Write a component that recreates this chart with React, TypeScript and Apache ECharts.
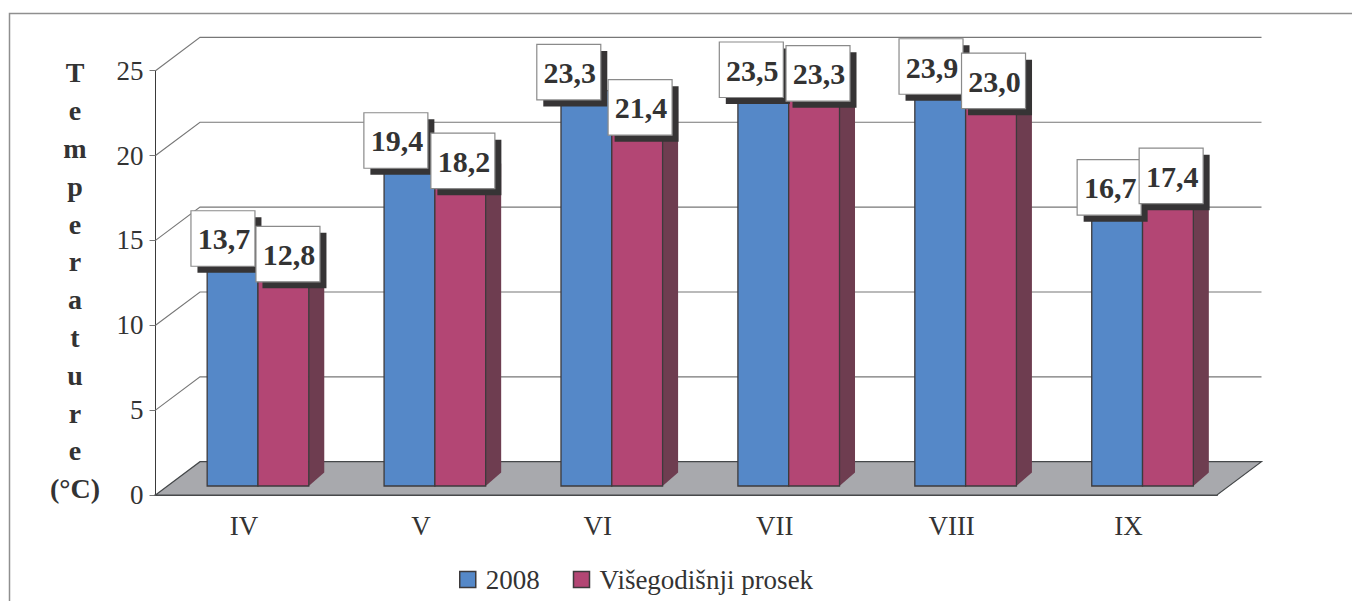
import React, { useEffect, useRef } from "react";
import * as echarts from "echarts";

const months = ["IV", "V", "VI", "VII", "VIII", "IX"];
const values2008 = [13.7, 19.4, 23.3, 23.5, 23.9, 16.7];
const valuesAverage = [12.8, 18.2, 21.4, 23.3, 23.0, 17.4];
const seriesNames = ["2008", "Višegodišnji prosek"];
const yTicks = [0, 5, 10, 15, 20, 25];
const titleLines = ["T", "e", "m", "p", "e", "r", "a", "t", "u", "r", "e", "(°C)"];

// hand-placed label offsets from each bar's top centre
const nudge2008 = [[-9.6, -15], [-13.6, -16.25], [-17.6, -18.4], [-12, -17.4], [-9.2, -13.85], [-8, -15.1]];
const nudgeAverage = [[4.6, -14.65], [2.6, -16.16], [2.9, -15.37], [3.9, -17.1], [2.5, -14.73], [3.2, -14.73]];

const FONT = '"Liberation Serif", "Times New Roman", serif';
const INK = "#333333";
const BLUE = "#5588c8";
const PURPLE = "#b34674";
const SIDE = "#6e3d50";
const TOP_PURPLE = "#8f4a66";
const FLOOR = "#a8a9ad";
const EDGE = "#3d3a3c";

const WALL_DX = 44.5, WALL_DY = -33.3;
const BAR_DX = 15.5, BAR_DY = -13.5;
const BASE_SHIFT_X = 14, BASE_SHIFT_Y = -9;
const BAR_WIDTH = 50.8;
const BOX_W = 64, BOX_H = 55.5, SHADOW = 6.5;

const wallItem = (params: any, api: any) => {
  const v = yTicks[params.dataIndex];
  const cs = params.coordSys;
  const y = api.coord([0, v])[1];
  const x0 = cs.x, x1 = cs.x + cs.width;
  if (v === 0) {
    return {
      type: "group",
      children: [
        {
          type: "polygon",
          shape: { points: [[x0, y], [x0 + WALL_DX, y + WALL_DY], [x1 + WALL_DX, y + WALL_DY], [x1, y]] },
          style: { fill: FLOOR, stroke: "#45484a", lineWidth: 1.2 },
        },
      ],
    };
  }
  return {
    type: "polyline",
    shape: { points: [[x0, y], [x0 + WALL_DX, y + WALL_DY], [x1 + WALL_DX, y + WALL_DY]] },
    style: { fill: "none", stroke: "#777777", lineWidth: 1.1 },
  };
};

const barItem = (side: number, color: string) => (params: any, api: any) => {
  const i = params.dataIndex;
  const band = api.coord([i, 0]);
  const top = api.coord([i, api.value(1)]);
  const xl = band[0] + BASE_SHIFT_X + (side === 0 ? -BAR_WIDTH : 0);
  const xr = xl + BAR_WIDTH;
  const yb = band[1] + BASE_SHIFT_Y;
  const yt = top[1] + BASE_SHIFT_Y;
  const front = {
    type: "rect",
    shape: { x: xl, y: yt, width: BAR_WIDTH, height: yb - yt },
    style: { fill: color, stroke: EDGE, lineWidth: 1.3 },
  };
  // the left bar's side and top are hidden behind its neighbour and the labels
  if (side === 0) return { type: "group", children: [front] };
  return {
    type: "group",
    children: [
      {
        type: "polygon",
        shape: { points: [[xr, yt], [xr + BAR_DX, yt + BAR_DY], [xr + BAR_DX, yb + BAR_DY], [xr, yb]] },
        style: { fill: SIDE, stroke: "none" },
      },
      {
        type: "polygon",
        shape: { points: [[xl, yt], [xl + BAR_DX, yt + BAR_DY], [xr + BAR_DX, yt + BAR_DY], [xr, yt]] },
        style: { fill: TOP_PURPLE, stroke: "none" },
      },
      front,
    ],
  };
};

const labelItem = (side: number, nudges: number[][]) => (params: any, api: any) => {
  const i = params.dataIndex;
  const v = api.value(1);
  const band = api.coord([i, 0]);
  const top = api.coord([i, v]);
  const cx = band[0] + BASE_SHIFT_X + (side === 0 ? -BAR_WIDTH / 2 : BAR_WIDTH / 2) + nudges[i][0];
  const cy = top[1] + BASE_SHIFT_Y + nudges[i][1];
  const x = cx - BOX_W / 2, y = cy - BOX_H / 2;
  return {
    type: "group",
    children: [
      { type: "rect", shape: { x: x + SHADOW, y: y + SHADOW, width: BOX_W, height: BOX_H }, style: { fill: "#363435" } },
      { type: "rect", shape: { x, y, width: BOX_W, height: BOX_H }, style: { fill: "#ffffff", stroke: "#8a8a8a", lineWidth: 1.2 } },
      {
        type: "text",
        style: {
          text: v.toFixed(1).replace(".", ","),
          x: cx + 1,
          y: cy + 0.5,
          align: "center",
          verticalAlign: "middle",
          fill: INK,
          fontFamily: FONT,
          fontWeight: "bold",
          fontSize: 30,
        },
      },
    ],
  };
};

const pairs = (vals: number[]) => vals.map((v, i) => [i, v]);

export default function App() {
  const ref = useRef<HTMLDivElement>(null);
  useEffect(() => {
    const chart = echarts.init(ref.current!, null, { renderer: "svg" });
    chart.setOption({
      animation: false,
      backgroundColor: "#ffffff",
      grid: { left: 155.5, right: 135, top: 70.7, bottom: 106, containLabel: false },
      xAxis: {
        type: "category",
        data: months,
        boundaryGap: true,
        axisLine: { lineStyle: { color: "#4a4a4c", width: 2 } },
        axisTick: { length: 6, alignWithLabel: false, lineStyle: { color: "#555555", width: 1 } },
        axisLabel: { fontFamily: FONT, fontSize: 27, color: INK, margin: 17, interval: 0 },
      },
      yAxis: {
        type: "value",
        min: 0,
        max: 25,
        interval: 5,
        axisLine: { show: true, lineStyle: { color: "#3a3a3a", width: 1 } },
        axisTick: { show: true, length: 6, lineStyle: { color: "#777777", width: 1 } },
        axisLabel: { fontFamily: FONT, fontSize: 27, color: INK, margin: 12, padding: [3, 0, 0, 0] },
        splitLine: { show: false },
      },
      legend: {
        data: seriesNames.map((name) => ({ name, icon: "rect" })),
        left: 454,
        top: 561,
        itemWidth: 16,
        itemHeight: 16,
        itemGap: 33,
        selectedMode: false,
        itemStyle: { borderColor: "#3d3a3c", borderWidth: 1.5 },
        textStyle: { fontFamily: FONT, fontSize: 27, color: INK, padding: [0, 0, 0, 5] },
      },
      graphic: [
        {
          type: "polyline",
          shape: { points: [[9.5, 601], [9.5, 13.5], [1352, 13.5]] },
          style: { fill: "none", stroke: "#8f8f8f", lineWidth: 1.5 },
          silent: true,
        },
        {
          type: "text",
          x: 75,
          y: 54,
          style: {
            text: titleLines.join("\n"),
            align: "center",
            fill: INK,
            fontFamily: FONT,
            fontWeight: "bold",
            fontSize: 28,
            lineHeight: 37.8,
          },
          silent: true,
        },
      ],
      series: [
        {
          type: "custom",
          name: "walls",
          renderItem: wallItem,
          data: yTicks.map((t) => [0, t]),
          encode: { x: 0, y: 1 },
          silent: true,
          z: 1,
        },
        {
          type: "custom",
          name: seriesNames[0],
          renderItem: barItem(0, BLUE),
          data: pairs(values2008),
          encode: { x: 0, y: 1 },
          itemStyle: { color: BLUE },
          z: 2,
        },
        {
          type: "custom",
          name: seriesNames[1],
          renderItem: barItem(1, PURPLE),
          data: pairs(valuesAverage),
          encode: { x: 0, y: 1 },
          itemStyle: { color: PURPLE },
          z: 3,
        },
        {
          type: "custom",
          name: seriesNames[0],
          renderItem: labelItem(0, nudge2008),
          data: pairs(values2008),
          encode: { x: 0, y: 1 },
          itemStyle: { color: BLUE },
          z: 4,
        },
        {
          type: "custom",
          name: seriesNames[1],
          renderItem: labelItem(1, nudgeAverage),
          data: pairs(valuesAverage),
          encode: { x: 0, y: 1 },
          itemStyle: { color: PURPLE },
          z: 5,
        },
      ],
    });
    return () => chart.dispose();
  }, []);
  return (
    <div
      ref={ref}
      style={{ position: "absolute", left: 0, top: 0, width: 1352, height: 601 }}
    />
  );
}
